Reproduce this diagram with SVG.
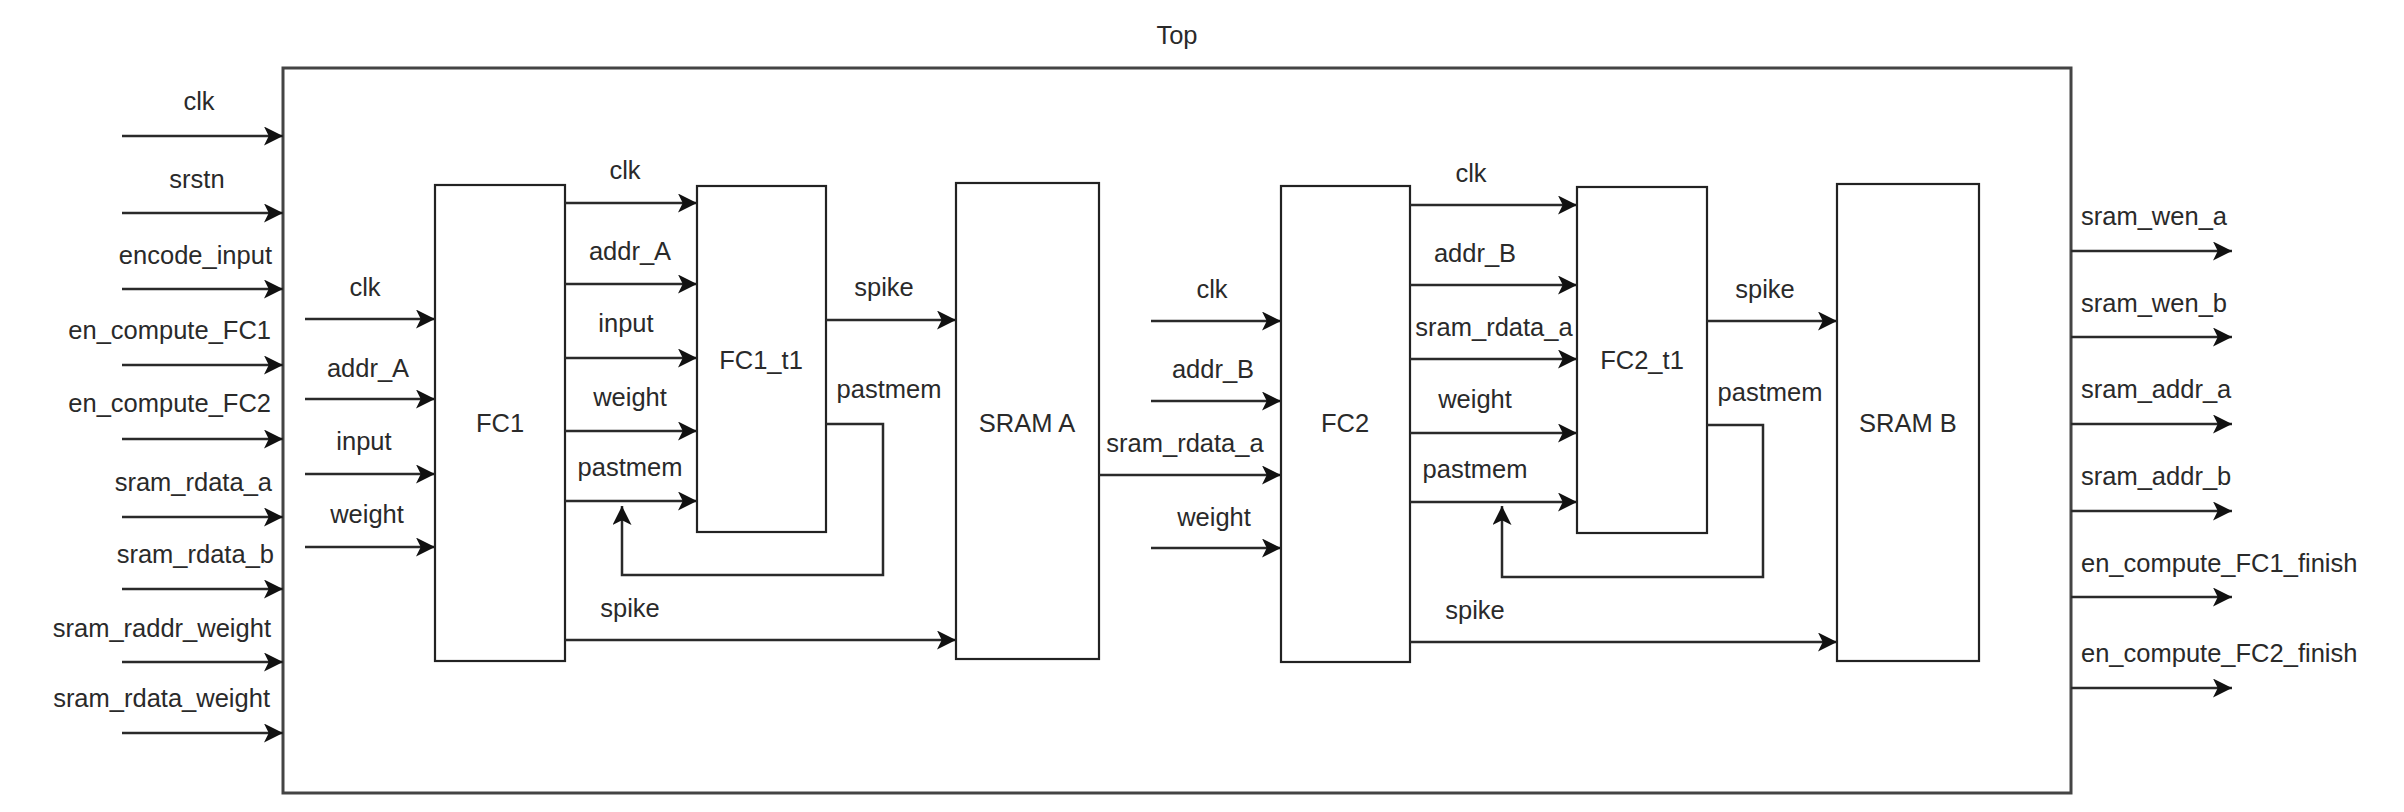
<svg xmlns="http://www.w3.org/2000/svg" width="2404" height="812" viewBox="0 0 2404 812">
<style>
.top{fill:#fff;stroke:#444;stroke-width:3}
.box{fill:#fff;stroke:#222;stroke-width:2.2}
.wire{fill:none;stroke:#2a2a2a;stroke-width:2.5;marker-end:url(#arr)}
text{font-family:"Liberation Sans",Arial,sans-serif;font-size:25.5px;fill:#2a2a2a}
.m{text-anchor:middle}
.e{text-anchor:end}
</style>
<defs>
<marker id="arr" markerUnits="userSpaceOnUse" markerWidth="20" markerHeight="20" refX="19" refY="9.5" orient="auto">
<path d="M0,0 L19,9.5 L0,19 L4.75,9.5 Z" fill="#111"/>
</marker>
</defs>
<rect width="2404" height="812" fill="#fff"/>
<g id="top">
<rect class="top" x="283" y="68" width="1788" height="725"/>
<text class="m" x="1177" y="44">Top</text>
</g>
<g id="fc1"><rect class="box" x="435" y="185" width="130" height="476"/><text class="m" x="500" y="432">FC1</text></g>
<g id="fc1_t1"><rect class="box" x="697" y="186" width="129" height="346"/><text class="m" x="761" y="369">FC1_t1</text></g>
<g id="sram_a"><rect class="box" x="956" y="183" width="143" height="476"/><text class="m" x="1027" y="432">SRAM A</text></g>
<g id="fc2"><rect class="box" x="1281" y="186" width="129" height="476"/><text class="m" x="1345" y="432">FC2</text></g>
<g id="fc2_t1"><rect class="box" x="1577" y="187" width="130" height="346"/><text class="m" x="1642" y="369">FC2_t1</text></g>
<g id="sram_b"><rect class="box" x="1837" y="184" width="142" height="477"/><text class="m" x="1908" y="432">SRAM B</text></g>
<g id="connectors">
<path class="wire" d="M122,136H283"/>
<path class="wire" d="M122,213H283"/>
<path class="wire" d="M122,289H283"/>
<path class="wire" d="M122,365H283"/>
<path class="wire" d="M122,439H283"/>
<path class="wire" d="M122,517H283"/>
<path class="wire" d="M122,589H283"/>
<path class="wire" d="M122,662H283"/>
<path class="wire" d="M122,733H283"/>
<path class="wire" d="M305,319H435"/>
<path class="wire" d="M305,399H435"/>
<path class="wire" d="M305,474H435"/>
<path class="wire" d="M305,547H435"/>
<path class="wire" d="M565,203H697"/>
<path class="wire" d="M565,284H697"/>
<path class="wire" d="M565,358H697"/>
<path class="wire" d="M565,431H697"/>
<path class="wire" d="M565,501H697"/>
<path class="wire" d="M826,320H956"/>
<path class="wire" d="M826,424H883V575H622V506"/>
<path class="wire" d="M565,640H956"/>
<path class="wire" d="M1151,321H1281"/>
<path class="wire" d="M1151,401H1281"/>
<path class="wire" d="M1099,475H1281"/>
<path class="wire" d="M1151,548H1281"/>
<path class="wire" d="M1410,205H1577"/>
<path class="wire" d="M1410,285H1577"/>
<path class="wire" d="M1410,359H1577"/>
<path class="wire" d="M1410,433H1577"/>
<path class="wire" d="M1410,502H1577"/>
<path class="wire" d="M1707,321H1837"/>
<path class="wire" d="M1707,425H1763V577H1502V506"/>
<path class="wire" d="M1410,642H1837"/>
<path class="wire" d="M2071,251H2232"/>
<path class="wire" d="M2071,337H2232"/>
<path class="wire" d="M2071,424H2232"/>
<path class="wire" d="M2071,511H2232"/>
<path class="wire" d="M2071,597H2232"/>
<path class="wire" d="M2071,688H2232"/>
</g>
<g id="labels">
<text class="m" x="199" y="110">clk</text>
<text class="m" x="197" y="188">srstn</text>
<text class="e" x="272" y="264">encode_input</text>
<text class="e" x="271" y="339">en_compute_FC1</text>
<text class="e" x="271" y="412">en_compute_FC2</text>
<text class="e" x="272" y="491">sram_rdata_a</text>
<text class="e" x="274" y="563">sram_rdata_b</text>
<text class="e" x="271" y="637">sram_raddr_weight</text>
<text class="e" x="270" y="707">sram_rdata_weight</text>
<text class="m" x="365" y="296">clk</text>
<text class="m" x="368" y="377">addr_A</text>
<text class="m" x="364" y="450">input</text>
<text class="m" x="367" y="523">weight</text>
<text class="m" x="625" y="179">clk</text>
<text class="m" x="630" y="260">addr_A</text>
<text class="m" x="626" y="332">input</text>
<text class="m" x="630" y="406">weight</text>
<text class="m" x="630" y="476">pastmem</text>
<text class="m" x="884" y="296">spike</text>
<text class="m" x="889" y="398">pastmem</text>
<text class="m" x="630" y="617">spike</text>
<text class="m" x="1212" y="298">clk</text>
<text class="m" x="1213" y="378">addr_B</text>
<text class="m" x="1185" y="452">sram_rdata_a</text>
<text class="m" x="1214" y="526">weight</text>
<text class="m" x="1471" y="182">clk</text>
<text class="m" x="1475" y="262">addr_B</text>
<text class="m" x="1494" y="336">sram_rdata_a</text>
<text class="m" x="1475" y="408">weight</text>
<text class="m" x="1475" y="478">pastmem</text>
<text class="m" x="1765" y="298">spike</text>
<text class="m" x="1770" y="401">pastmem</text>
<text class="m" x="1475" y="619">spike</text>
<text x="2081" y="225">sram_wen_a</text>
<text x="2081" y="312">sram_wen_b</text>
<text x="2081" y="398">sram_addr_a</text>
<text x="2081" y="485">sram_addr_b</text>
<text x="2081" y="572">en_compute_FC1_finish</text>
<text x="2081" y="662">en_compute_FC2_finish</text>
</g>
</svg>
